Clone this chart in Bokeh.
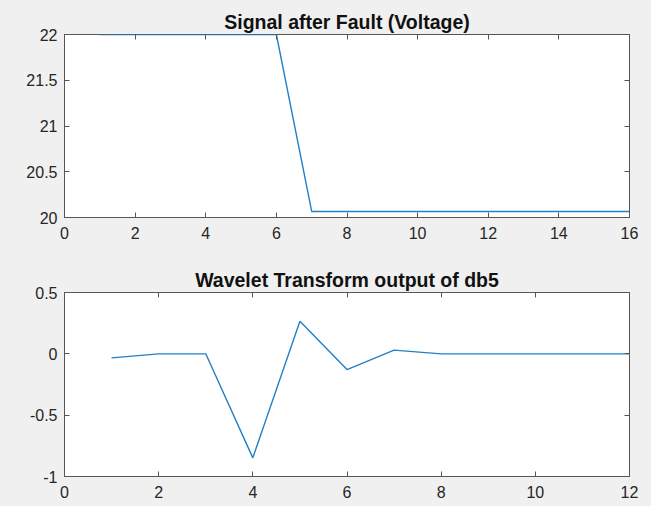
from bokeh.plotting import figure
from bokeh.models import Range1d, FixedTicker, LinearAxis
from bokeh.layouts import column
from bokeh.embed import file_html
from bokeh.resources import INLINE

# ---- data ----
top_x = [1, 2, 3, 4, 5, 6, 7, 8, 9, 10, 11, 12, 13, 14, 15, 16]
top_y = [22, 22, 22, 22, 22, 22, 20.066, 20.066, 20.066, 20.066, 20.066,
         20.066, 20.066, 20.066, 20.066, 20.066]
top_xticks = [0, 2, 4, 6, 8, 10, 12, 14, 16]
top_yticks = [20, 20.5, 21, 21.5, 22]
top_ylabels = ["20", "20.5", "21", "21.5", "22"]
top_title = "Signal after Fault (Voltage)"

bot_x = [1, 2, 3, 4, 5, 6, 7, 8, 9, 10, 11, 12]
bot_y = [-0.033, 0, 0, -0.848, 0.266, -0.128, 0.030, 0, 0, 0, 0, 0]
bot_xticks = [0, 2, 4, 6, 8, 10, 12]
bot_yticks = [-1, -0.5, 0, 0.5]
bot_ylabels = ["-1", "-0.5", "0", "0.5"]
bot_title = "Wavelet Transform output of db5"

FONT = "Liberation Sans"
AX = "#555555"
TXT = "#262626"
BG = "#f0f0f0"
LINE = "#2380c6"


def make(xs, ys, xr, yr, xticks, yticks, ylabels, title, h, top_b, bot_b):
    p = figure(width=651, height=h, output_backend="svg", toolbar_location=None,
               x_range=Range1d(*xr), y_range=Range1d(*yr),
               min_border_left=64, min_border_right=22,
               min_border_top=top_b, min_border_bottom=bot_b,
               frame_width=565)
    p.background_fill_color = "white"
    p.border_fill_color = BG
    p.outline_line_color = AX
    p.outline_line_width = 1
    p.grid.visible = False
    p.title.text = title
    p.title.align = "center"
    p.title.text_font = FONT
    p.title.text_font_size = "19.5px"
    p.title.text_font_style = "bold"
    p.title.text_color = "#111111"
    p.title.standoff = 4

    p.line(xs, ys, line_color=LINE, line_width=1.4)

    p.xaxis.ticker = FixedTicker(ticks=xticks)
    p.yaxis.ticker = FixedTicker(ticks=yticks)
    p.yaxis.major_label_overrides = {t: l for t, l in zip(yticks, ylabels)}
    for ax in (p.xaxis, p.yaxis):
        ax.axis_line_color = AX
        ax.major_tick_line_color = AX
        ax.major_tick_in = 5
        ax.major_tick_out = 0
        ax.minor_tick_line_color = None
        ax.major_label_text_font = FONT
        ax.major_label_text_font_size = "16px"
        ax.major_label_text_color = TXT
    p.xaxis.major_label_standoff = 9
    p.yaxis.major_label_standoff = 7

    for side, tk in (("above", xticks), ("right", yticks)):
        a = LinearAxis(ticker=FixedTicker(ticks=tk))
        a.axis_line_color = None
        a.major_tick_line_color = AX
        a.major_tick_in = 5
        a.major_tick_out = 0
        a.minor_tick_line_color = None
        a.major_label_text_color = None
        a.major_label_text_font_size = "1px"
        a.major_label_standoff = 0
        p.add_layout(a, side)
    return p


p1 = make(top_x, top_y, (0, 16), (20, 22), top_xticks, top_yticks, top_ylabels,
          top_title, 253, 34, 36)
p1.frame_height = 183
p2 = make(bot_x, bot_y, (0, 12), (-1, 0.5), bot_xticks, bot_yticks, bot_ylabels,
          bot_title, 253, 39, 30)
p2.frame_height = 184

layout = column(p1, p2, spacing=0)
layout.styles = {"background-color": BG}

open("out.html", "w").write(file_html(layout, INLINE))
